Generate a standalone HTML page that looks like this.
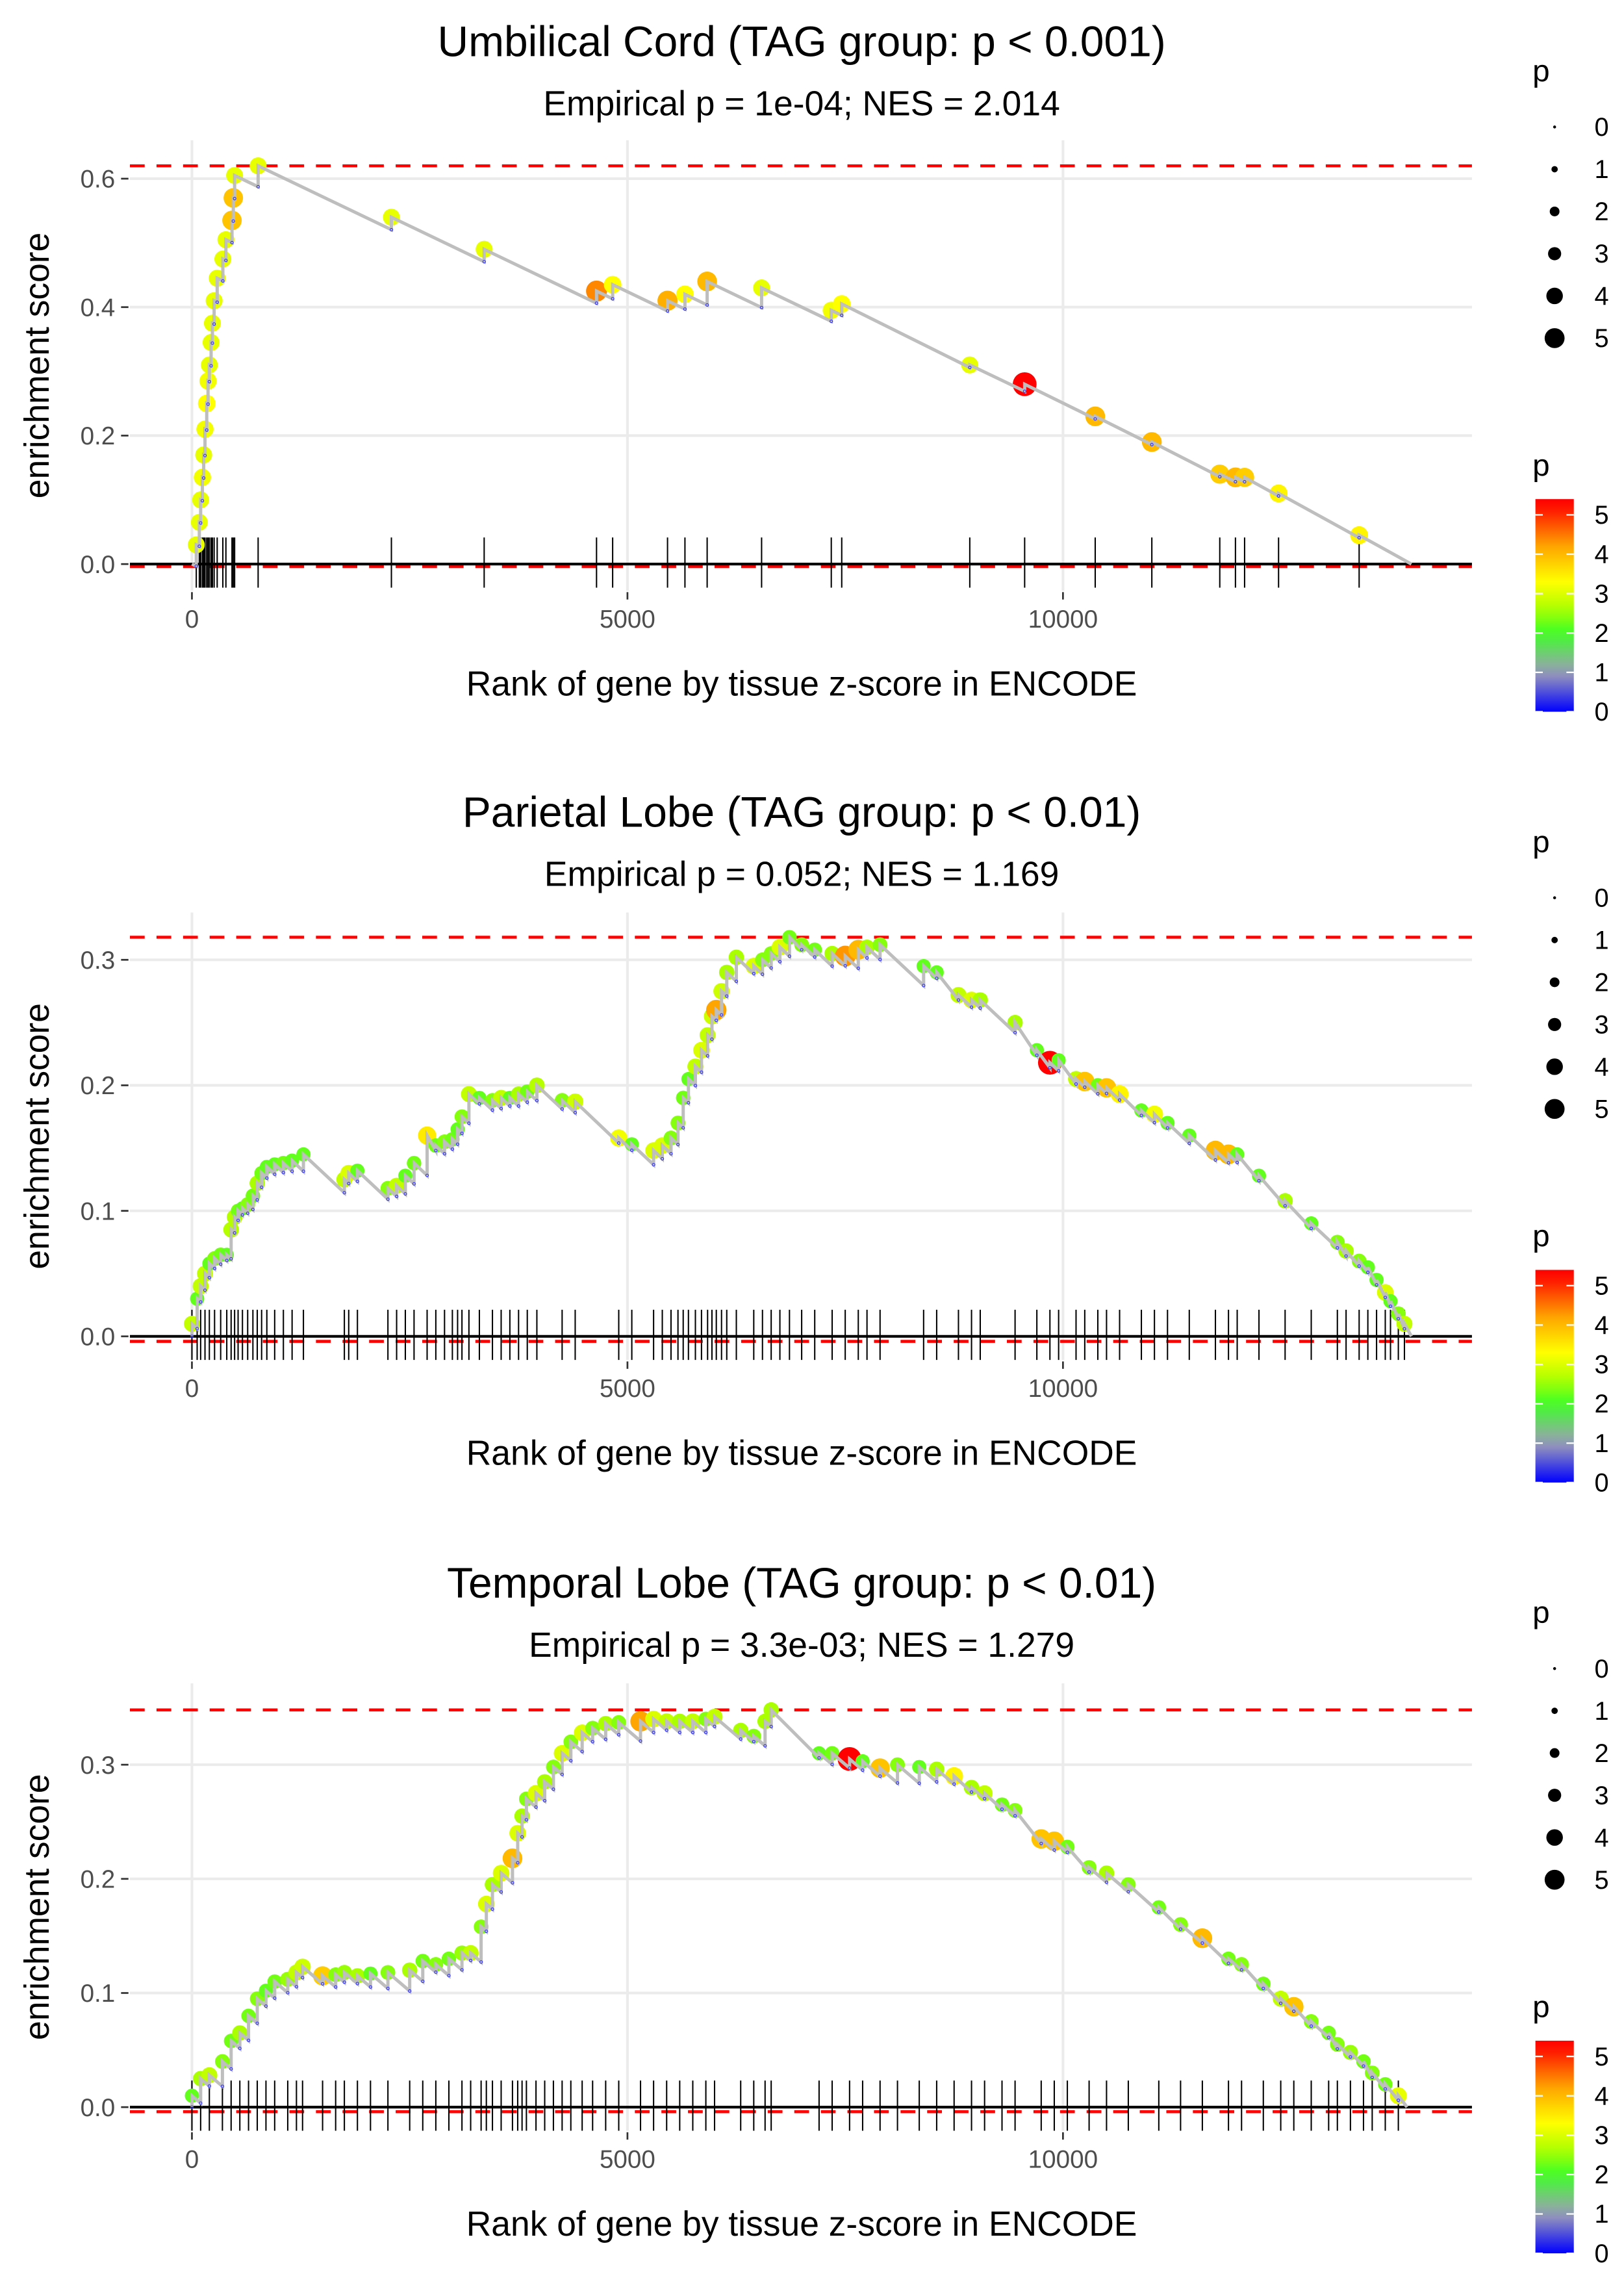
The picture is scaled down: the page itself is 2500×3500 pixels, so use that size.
<!DOCTYPE html>
<html><head><meta charset="utf-8"><title>Enrichment plots</title>
<style>html,body{margin:0;padding:0;background:#fff}svg{display:block}</style></head>
<body>
<svg id="chart" xmlns="http://www.w3.org/2000/svg" width="2500" height="3500" viewBox="0 0 1100 1540" font-family="Liberation Sans, Arial, sans-serif"></svg>
<script>
// ---- Panel 1: Umbilical Cord ----
const p1Ranks = [50,85,100,120,135,150,170,185,200,220,235,255,290,355,390,460,475,490,760,2290,3355,4645,4830,5460,5660,5915,6540,7340,7460,8930,9560,10370,11020,11800,11980,12085,12475,13400];
const p1ES = [0.03,0.065,0.1,0.135,0.17,0.21,0.25,0.285,0.31,0.345,0.375,0.41,0.445,0.475,0.505,0.535,0.57,0.605,0.62,0.54,0.49,0.425,0.435,0.41,0.42,0.44,0.43,0.395,0.405,0.31,0.28,0.23,0.19,0.14,0.135,0.135,0.11,0.045];
const p1P = [3.1,3.1,3.1,3.2,3.1,3.2,3.3,3.2,3.1,3.1,3.1,3.1,3.1,3.1,3.1,3.9,3.9,3.1,3.1,3.1,3.1,4.4,3.3,4.1,3.3,4.0,3.1,3.2,3.3,3.1,5.3,4.0,4.0,3.8,4.0,3.8,3.4,3.4];
const p1End = 14000;
const p1YTicks = [0.0,0.2,0.4,0.6];
const p1Max = 0.62;

// ---- Panel 2: Parietal Lobe ----
const p2Ranks = [0,60,100,150,200,260,330,400,450,490,530,580,640,700,750,800,860,950,1050,1150,1280,1750,1800,1900,2250,2350,2450,2550,2700,2800,2900,2990,3050,3100,3180,3300,3450,3550,3650,3750,3850,3960,4250,4400,4900,5050,5300,5400,5500,5580,5640,5700,5780,5850,5920,5970,6020,6080,6140,6250,6450,6550,6650,6750,6860,7000,7150,7350,7500,7650,7750,7900,8400,8550,8800,8950,9050,9450,9700,9850,9950,10150,10250,10400,10500,10650,10900,11050,11200,11450,11750,11900,12000,12250,12550,12850,13150,13250,13400,13500,13600,13700,13760,13850,13920];
const p2ES = [0.01,0.03,0.04,0.05,0.058,0.062,0.065,0.065,0.085,0.095,0.1,0.102,0.105,0.112,0.122,0.13,0.135,0.137,0.138,0.14,0.145,0.125,0.13,0.132,0.118,0.12,0.128,0.138,0.16,0.152,0.155,0.157,0.165,0.175,0.193,0.19,0.188,0.19,0.19,0.193,0.195,0.2,0.188,0.187,0.158,0.153,0.148,0.152,0.158,0.17,0.19,0.205,0.215,0.228,0.24,0.255,0.26,0.275,0.29,0.302,0.295,0.3,0.305,0.31,0.318,0.312,0.308,0.305,0.303,0.308,0.31,0.312,0.295,0.29,0.272,0.268,0.268,0.25,0.228,0.218,0.22,0.205,0.203,0.2,0.198,0.193,0.18,0.177,0.17,0.16,0.148,0.145,0.145,0.128,0.108,0.09,0.075,0.068,0.06,0.055,0.045,0.035,0.028,0.018,0.01];
const p2P = [2.8,2.2,2.8,2.8,2.2,2.4,2.3,2.2,2.7,2.7,2.3,2.2,2.4,2.3,2.6,2.3,2.2,2.2,2.3,2.2,2.2,2.8,3.0,2.2,2.4,2.8,2.2,2.3,3.5,2.3,2.4,2.3,2.2,2.4,2.8,2.2,2.4,2.8,2.2,2.6,2.3,2.7,2.4,2.9,3.2,2.2,3.0,3.0,2.4,2.4,2.3,2.2,2.8,3.0,2.8,2.9,4.2,2.9,2.6,2.6,3.0,2.4,2.4,3.0,2.3,2.4,2.3,2.6,4.3,4.0,2.6,2.4,2.2,2.2,2.8,3.0,2.6,2.6,2.2,5.3,2.2,2.8,3.9,2.3,3.9,3.4,2.2,3.2,2.2,2.2,4.0,4.0,2.2,2.2,2.6,2.2,2.4,2.6,2.4,2.2,2.2,3.0,2.2,2.4,2.8];
const p2End = 14000;
const p2YTicks = [0.0,0.1,0.2,0.3];
const p2Max = 0.318;

// ---- Panel 3: Temporal Lobe ----
const p3Ranks = [0,100,200,350,450,550,650,750,850,950,1100,1200,1270,1500,1650,1750,1900,2050,2250,2500,2650,2800,2950,3100,3200,3320,3380,3450,3550,3680,3740,3790,3840,3950,4050,4150,4250,4350,4480,4600,4750,4900,5150,5300,5450,5600,5750,5900,6000,6300,6450,6580,6650,7200,7350,7550,7700,7900,8100,8350,8550,8750,8950,9100,9300,9450,9750,9900,10050,10300,10500,10750,11100,11350,11600,11900,12050,12300,12500,12650,12850,13050,13150,13300,13450,13550,13700,13850];
const p3ES = [0.01,0.025,0.028,0.04,0.058,0.065,0.08,0.095,0.102,0.11,0.112,0.118,0.123,0.115,0.116,0.118,0.115,0.117,0.118,0.12,0.128,0.125,0.13,0.135,0.135,0.158,0.178,0.195,0.205,0.218,0.24,0.255,0.27,0.275,0.285,0.298,0.31,0.32,0.328,0.332,0.336,0.337,0.338,0.34,0.338,0.338,0.338,0.34,0.342,0.33,0.325,0.338,0.348,0.31,0.31,0.305,0.303,0.297,0.3,0.298,0.296,0.29,0.28,0.275,0.265,0.26,0.235,0.233,0.228,0.21,0.205,0.195,0.175,0.16,0.148,0.13,0.125,0.108,0.095,0.088,0.075,0.065,0.055,0.048,0.04,0.03,0.02,0.01];
const p3P = [2.2,2.6,2.8,2.4,2.3,2.6,2.3,2.4,2.2,2.3,2.5,2.8,2.9,3.8,2.4,2.5,2.6,2.2,2.4,2.6,2.3,2.4,2.3,2.5,2.8,2.4,3.0,2.6,3.0,4.0,3.0,2.6,2.4,3.0,2.6,2.4,3.0,2.4,3.0,2.4,2.6,2.4,4.2,3.0,2.8,2.6,2.8,2.4,2.8,2.6,2.4,2.6,2.6,2.2,2.3,5.3,2.2,3.9,2.4,2.2,2.6,3.4,2.6,2.8,2.3,2.4,3.9,3.9,2.3,2.4,2.6,2.4,2.3,2.4,4.0,2.3,2.4,2.3,2.8,3.9,2.4,2.3,2.4,2.5,2.3,2.4,2.3,3.1];
const p3End = 13950;
const p3YTicks = [0.0,0.1,0.2,0.3];
const p3Max = 0.348;

const xTicks = [0,5000,10000];
const legendSizes = [0,1,2,3,4,5];
const colorbarTicks = [0,1,2,3,4,5];

const NS = 'http://www.w3.org/2000/svg';
const svg = document.getElementById('chart');
function mk(tag, attrs, parent, text){
  const e = document.createElementNS(NS, tag);
  for (const k in attrs) e.setAttribute(k, attrs[k]);
  if (text !== undefined) e.textContent = text;
  (parent || svg).appendChild(e);
  return e;
}
const stops = [[0,[0,0,255]],[1,[158,158,184]],[2,[60,255,40]],[2.6,[170,255,0]],[3.3,[255,255,0]],[4.2,[255,165,0]],[5.3,[255,0,0]]];
function pColor(p){
  if (p <= stops[0][0]) return 'rgb(0,0,255)';
  for (let i=1;i<stops.length;i++){
    if (p <= stops[i][0]){
      const a=stops[i-1], b=stops[i], t=(p-a[0])/(b[0]-a[0]);
      const c=a[1].map((v,j)=>Math.round(v+(b[1][j]-v)*t));
      return 'rgb('+c.join(',')+')';
    }
  }
  return 'rgb(255,0,0)';
}
function pRadius(p){ return 2.5 + 1.05*p; }
function legendRadius(p){ return 1 + 1.15*p; }
const xScale = r => 130 + r*0.059;
const slope = 6.5e-5;

const defs = mk('defs', {});
const grad = mk('linearGradient', {id:'pgrad', x1:0, y1:1, x2:0, y2:0}, defs);
for (let v=0; v<=5.4; v+=0.3){
  mk('stop', {offset:(v/5.4).toFixed(3), 'stop-color':pColor(v)}, grad);
}

const panels = [
  {ranks:p1Ranks, es:p1ES, p:p1P, end:p1End, yt:p1YTicks, max:p1Max, y0:382, unit:435, top:95, bottom:400, off:0,
   title:'Umbilical Cord (TAG group: p < 0.001)', sub:'Empirical p = 1e-04; NES = 2.014', key:'umbilical-cord'},
  {ranks:p2Ranks, es:p2ES, p:p2P, end:p2End, yt:p2YTicks, max:p2Max, y0:905, unit:850, top:618, bottom:921, off:522,
   title:'Parietal Lobe (TAG group: p < 0.01)', sub:'Empirical p = 0.052; NES = 1.169', key:'parietal-lobe'},
  {ranks:p3Ranks, es:p3ES, p:p3P, end:p3End, yt:p3YTicks, max:p3Max, y0:1427, unit:773, top:1140, bottom:1443, off:1044,
   title:'Temporal Lobe (TAG group: p < 0.01)', sub:'Empirical p = 3.3e-03; NES = 1.279', key:'temporal-lobe'}
];

panels.forEach((P, pi) => {
  const g = mk('g', {});
  
  
  const yS = v => P.y0 - v*P.unit;
  const t = mk('text', {x:543, y:38+P.off, 'text-anchor':'middle', 'font-size':29, fill:'#000'}, g, P.title);
  
  
  const s = mk('text', {x:543, y:78+P.off, 'text-anchor':'middle', 'font-size':23.5, fill:'#000'}, g, P.sub);
  
  
  P.yt.forEach(v => {
    const l = mk('line', {x1:88, x2:997, y1:yS(v), y2:yS(v), stroke:'#ebebeb', 'stroke-width':1.8}, g);
    
    
    mk('line', {x1:82, x2:87, y1:yS(v), y2:yS(v), stroke:'#333', 'stroke-width':1.2}, g);
    const tl = mk('text', {x:78, y:yS(v)+6, 'text-anchor':'end', 'font-size':17, fill:'#4d4d4d'}, g, v.toFixed(1));
    
    
  });
  xTicks.forEach(v => {
    const l = mk('line', {x1:xScale(v), x2:xScale(v), y1:P.top, y2:P.bottom, stroke:'#ebebeb', 'stroke-width':1.8}, g);
    
    
    mk('line', {x1:xScale(v), x2:xScale(v), y1:P.bottom+1, y2:P.bottom+6, stroke:'#333', 'stroke-width':1.2}, g);
    const tl = mk('text', {x:xScale(v), y:P.bottom+25, 'text-anchor':'middle', 'font-size':17, fill:'#4d4d4d'}, g, String(v));
    
    
  });
  const xl = mk('text', {x:543, y:P.bottom+71, 'text-anchor':'middle', 'font-size':23.5, fill:'#000'}, g, 'Rank of gene by tissue z-score in ENCODE');
  
  
  const yc = (P.top+P.bottom)/2;
  const yl = mk('text', {x:0, y:0, transform:'translate(33,'+yc+') rotate(-90)', 'text-anchor':'middle', 'font-size':23.5, fill:'#000'}, g, 'enrichment score');
  
  
  const d1 = mk('line', {x1:88, x2:997, y1:yS(P.max), y2:yS(P.max), stroke:'#ff0000', 'stroke-width':2, 'stroke-dasharray':'10 8'}, g);
  
  
  const d2 = mk('line', {x1:88, x2:997, y1:yS(-0.004), y2:yS(-0.004), stroke:'#ff0000', 'stroke-width':2, 'stroke-dasharray':'10 8'}, g);
  
  
  P.ranks.forEach(r => {
    const l = mk('line', {x1:xScale(r), x2:xScale(r), y1:P.y0-18, y2:P.y0+16, stroke:'#000', 'stroke-width':0.9}, g);
    
    
  });
  const zl = mk('line', {x1:88, x2:997, y1:P.y0, y2:P.y0, stroke:'#000', 'stroke-width':1.8}, g);
  
  
  let pts = [[0,0]], pre = [];
  let prevR = 0, prevE = 0;
  for (let i=0;i<P.ranks.length;i++){
    const r = P.ranks[i], e = P.es[i];
    let pe = Math.min(prevE - slope*(r-prevR), e - 0.004);
    pts.push([r, pe]); pts.push([r, e]); pre.push([r, pe]);
    prevR = r; prevE = e;
  }
  pts.push([P.end, 0]);
  P.ranks.forEach((r,i) => {
    const c = mk('circle', {cx:xScale(r), cy:yS(P.es[i]), r:pRadius(P.p[i]), fill:pColor(P.p[i])}, g);
    
    
  });
  const path = mk('polyline', {points: pts.map(q => xScale(q[0]).toFixed(2)+','+yS(q[1]).toFixed(2)).join(' '), fill:'none', stroke:'#bebebe', 'stroke-width':2.2}, g);
  
  
  pre.forEach(q => {
    const c = mk('circle', {cx:xScale(q[0]), cy:yS(q[1]), r:0.9, fill:'none', stroke:'#3333ff', 'stroke-width':0.5}, g);
    
    
  });
  const lg = mk('g', {}, g);
  
  
  mk('text', {x:1038, y:55+P.off, 'font-size':21, fill:'#000'}, lg, 'p');
  legendSizes.forEach((v,k) => {
    const yy = 86 + k*28.6 + P.off;
    const c = mk('circle', {cx:1053, cy:yy, r:legendRadius(v), fill:'#000'}, lg);
    
    
    mk('text', {x:1080, y:yy+6, 'font-size':17.5, fill:'#000'}, lg, String(v));
  });
  const cb = mk('g', {}, g);
  
  
  mk('text', {x:1038, y:322+P.off, 'font-size':21, fill:'#000'}, cb, 'p');
  const barTop = 338+P.off, barBot = 482+P.off;
  const rect = mk('rect', {x:1040, y:barTop, width:26, height:barBot-barTop, fill:'url(#pgrad)'}, cb);
  
  
  colorbarTicks.forEach(v => {
    const yy = barBot - (v/5.4)*(barBot-barTop);
    mk('line', {x1:1040, x2:1045, y1:yy, y2:yy, stroke:'#fff', 'stroke-width':1}, cb);
    mk('line', {x1:1061, x2:1066, y1:yy, y2:yy, stroke:'#fff', 'stroke-width':1}, cb);
    mk('text', {x:1080, y:yy+6, 'font-size':17.5, fill:'#000'}, cb, String(v));
  });
});
</script>
</body></html>
